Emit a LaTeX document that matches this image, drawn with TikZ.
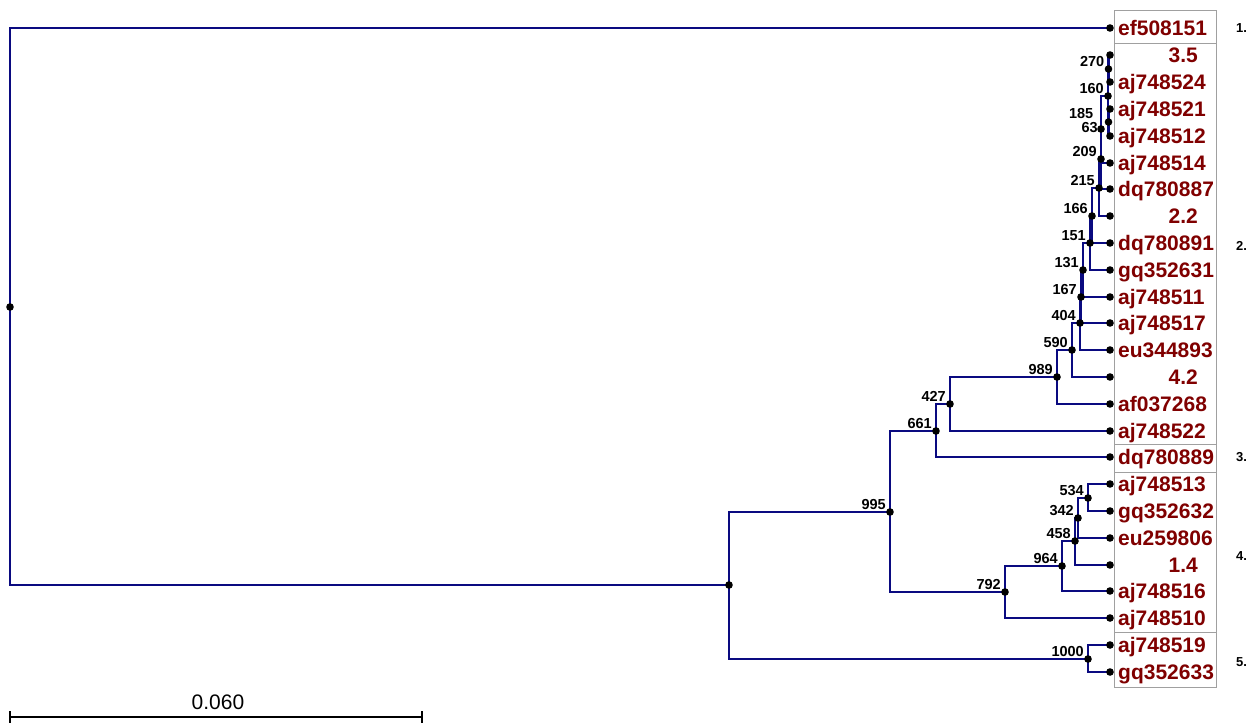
\documentclass[tikz,border=0pt]{standalone}
\usepackage{fontspec}
\setmainfont{Liberation Sans}
\definecolor{branchc}{RGB}{10,10,128}
\definecolor{labc}{RGB}{128,0,0}
\definecolor{boxc}{RGB}{160,160,160}
\tikzset{
  branch/.style={draw=branchc, line width=2.2pt},
  leaflab/.style={text=labc, font=\fontsize{21}{25}\selectfont\bfseries, inner sep=0pt, anchor=base west},
  numlab/.style={text=labc, font=\fontsize{21}{25}\selectfont\bfseries, inner sep=0pt, anchor=base east},
  boot/.style={font=\fontsize{14.5}{16}\selectfont\bfseries, inner sep=0pt, anchor=south east},
  grp/.style={font=\fontsize{13}{15}\selectfont\bfseries, inner sep=0pt, anchor=west},
  groupbox/.style={draw=boxc, line width=1pt}
}
\begin{document}
\begin{tikzpicture}[x=1pt,y=-1pt]
\useasboundingbox (0,0) rectangle (1254,723);
\fill[white] (0,0) rectangle (1254,723);
% leaves
\foreach \i/\yy in {0/28,1/55,2/82,3/109,4/136,5/163,6/189,7/216,8/243,9/270,10/297,11/323,12/350,13/377,14/404,15/431,16/457,17/484,18/511,19/538,20/565,21/591,22/618,23/645,24/672}
  \coordinate (L\i) at (1110,\yy);
% internal nodes
\coordinate (root) at (10,307);
\coordinate (nA) at (729,585);
\coordinate (n995) at (890,512);
\coordinate (n661) at (936,431);
\coordinate (n427) at (950,404);
\coordinate (n989) at (1057,377);
\coordinate (n590) at (1072,350);
\coordinate (n404) at (1080,323);
\coordinate (n167) at (1081,297);
\coordinate (n131) at (1083,270);
\coordinate (n151) at (1090,243);
\coordinate (n166) at (1092,216);
\coordinate (n215) at (1099,188);
\coordinate (n209) at (1101,159);
\coordinate (n63) at (1101,129);
\coordinate (n160) at (1108,96);
\coordinate (n270) at (1108.5,69);
\coordinate (n185) at (1108.5,122);
\coordinate (n792) at (1005,592);
\coordinate (n964) at (1062,566);
\coordinate (n458) at (1075,541);
\coordinate (n342) at (1078,518);
\coordinate (n534) at (1088,498);
\coordinate (n1000) at (1088,659);
% branches
\foreach \p/\a/\b in {root/L0/nA, nA/n995/n1000, n995/n661/n792, n661/n427/L16, n427/n989/L15,
  n989/n590/L14, n590/n404/L13, n404/n167/L12, n167/n131/L11, n131/n151/L10, n151/n166/L9,
  n166/n215/L8, n215/n209/L7, n209/n63/L6, n63/n160/L5, n160/n270/n185, n270/L1/L2, n185/L3/L4,
  n792/n964/L22, n964/n458/L21, n458/n342/L20, n342/n534/L19, n534/L17/L18, n1000/L23/L24}
  \draw[branch] (\a) -| (\p) |- (\b);
% dots
\foreach \n in {root,nA,n995,n661,n427,n989,n590,n404,n167,n131,n151,n166,n215,n209,n63,n160,n270,n185,n792,n964,n458,n342,n534,n1000,
  L0,L1,L2,L3,L4,L5,L6,L7,L8,L9,L10,L11,L12,L13,L14,L15,L16,L17,L18,L19,L20,L21,L22,L23,L24}
  \fill[black] (\n) circle[radius=3.8pt];
% bootstrap labels
\foreach \n/\t in {n995/995,n661/661,n427/427,n989/989,n590/590,n404/404,n167/167,n131/131,n151/151,n166/166,n215/215,n209/209,
  n270/270,n160/160,n792/792,n964/964,n458/458,n342/342,n534/534,n1000/1000}
  \node[boot] (b\n) at ([shift={(-4pt,2pt)}]\n) {\t};
\node[boot] (bn185) at ([shift={(-15pt,3pt)}]n185) {185};
\node[boot] (bn63) at ([shift={(-3pt,-4pt)}]n63) {63};
% group boxes
\draw[groupbox] (1114,10.7) rectangle (1216,43.5);
\draw[groupbox] (1114,43.5) rectangle (1216,444.5);
\draw[groupbox] (1114,444.5) rectangle (1216,472);
\draw[groupbox] (1114,472) rectangle (1216,632);
\draw[groupbox] (1114,632) rectangle (1216,687);
% leaf labels
\foreach \i/\t in {0/ef508151,2/aj748524,3/aj748521,4/aj748512,5/aj748514,6/dq780887,8/dq780891,9/gq352631,10/aj748511,11/aj748517,12/eu344893,14/af037268,15/aj748522,16/dq780889,17/aj748513,18/gq352632,19/eu259806,21/aj748516,22/aj748510,23/aj748519,24/gq352633}
  \node[leaflab] (lab\i) at ([shift={(8pt,-7.5pt)}]L\i) {\t};
\foreach \i/\t in {1/3.5,7/2.2,13/4.2,20/1.4}
  \node[numlab] (lab\i) at ([shift={(88pt,-7.5pt)}]L\i) {\t};
% group numbers
\node[grp] (g1) at (1236,28) {1.};
\node[grp] (g2) at (1236,246) {2.};
\node[grp] (g3) at (1236,457) {3.};
\node[grp] (g4) at (1236,556) {4.};
\node[grp] (g5) at (1236,662) {5.};
% scale bar
\coordinate (s1) at (10,717);
\coordinate (s2) at (422,717);
\draw[line width=2pt] (s1) -- (s2);
\draw[line width=1.5pt] ([yshift=6pt]s1) -- ([yshift=-6pt]s1);
\draw[line width=1.5pt] ([yshift=6pt]s2) -- ([yshift=-6pt]s2);
\node[font=\fontsize{21}{25}\selectfont, inner sep=0pt] (scl) at (218,702) {0.060};
\end{tikzpicture}
\end{document}
